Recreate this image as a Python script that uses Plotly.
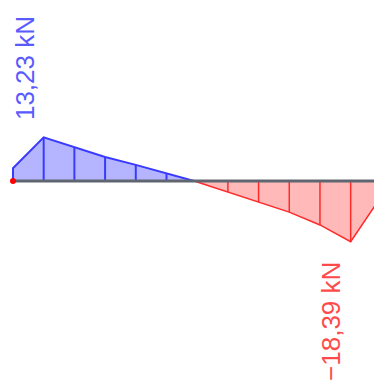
import plotly.graph_objects as go

# Shear force diagram data (position units, kN)
pos_pos = [0, 0, 1, 2, 3, 4, 5, 5.9]
val_pos = [0, 3.9, 13.23, 10.3, 7.3, 4.9, 2.4, 0]
pos_neg = [5.9, 7, 8, 9, 10, 11, 12, 12]
val_neg = [0, -3.3, -6.4, -9.4, -13.3, -18.39, -4.6, 0]
hatch_pos = [1, 2, 3, 4, 5]
hatch_neg = [7, 8, 9, 10, 11]
label_max = "13,23 kN"
label_min = "\u221218,39 kN"
beam = [0, 12.5]

def hatch(xs, xpts, ypts):
    hx, hy = [], []
    lookup = dict(zip(xpts, ypts))
    for x in xs:
        hx += [x, x, None]
        hy += [0, lookup[x], None]
    return hx, hy

fig = go.Figure()
fig.add_trace(go.Scatter(x=pos_pos, y=val_pos, fill="toself", mode="lines",
                         fillcolor="rgba(90,90,255,0.45)",
                         line=dict(color="#3a3aff", width=2), hoverinfo="skip"))
fig.add_trace(go.Scatter(x=pos_neg, y=val_neg, fill="toself", mode="lines",
                         fillcolor="rgba(255,100,100,0.45)",
                         line=dict(color="#ff2a2a", width=1.5), hoverinfo="skip"))
hx, hy = hatch(hatch_pos, pos_pos, val_pos)
fig.add_trace(go.Scatter(x=hx, y=hy, mode="lines", line=dict(color="#3a3aff", width=2), hoverinfo="skip"))
hx, hy = hatch(hatch_neg, pos_neg, val_neg)
fig.add_trace(go.Scatter(x=hx, y=hy, mode="lines", line=dict(color="#ff2a2a", width=1.5), hoverinfo="skip"))
fig.add_trace(go.Scatter(x=beam, y=[0, 0], mode="lines", line=dict(color="#5f6670", width=3), hoverinfo="skip"))
fig.add_trace(go.Scatter(x=[0], y=[0], mode="markers", marker=dict(color="red", size=6), hoverinfo="skip"))

imax = val_pos.index(max(val_pos))
imin = val_neg.index(min(val_neg))
fig.add_annotation(x=pos_pos[imax], y=val_pos[imax], text=label_max, textangle=-90,
                   showarrow=False, xanchor="center", yanchor="bottom", xshift=-18, yshift=15,
                   font=dict(family="Liberation Sans, Arial", size=26, color="#5a5aff"))
fig.add_annotation(x=pos_neg[imin], y=val_neg[imin], text=label_min, textangle=-90,
                   showarrow=False, xanchor="center", yanchor="top", xshift=-19, yshift=-18,
                   font=dict(family="Liberation Sans, Arial", size=26, color="#ff4a4a"))

fig.update_layout(width=374, height=390, margin=dict(l=0, r=0, t=0, b=0),
                  paper_bgcolor="white", plot_bgcolor="white", showlegend=False)
fig.update_xaxes(visible=False, range=[-0.423, 11.76])
fig.update_yaxes(visible=False, range=[-63.3, 54.85])
fig.write_html("out.html", config={"displayModeBar": False},
               post_script="document.body.style.margin='0';document.body.style.overflow='hidden';")
